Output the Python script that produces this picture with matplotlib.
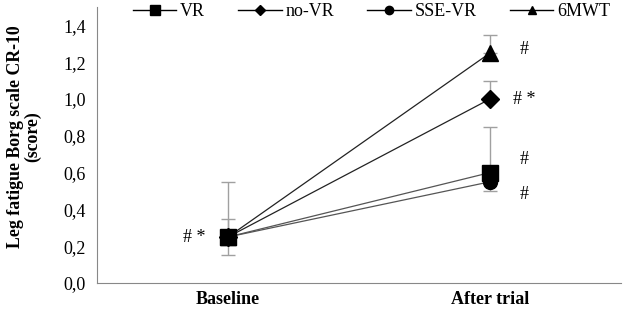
import matplotlib
matplotlib.use("Agg")
import matplotlib.pyplot as plt

plt.rcParams['font.family'] = ['Liberation Serif', 'DejaVu Serif']

categories = ["Baseline", "After trial"]
series = ["VR", "no-VR", "SSE-VR", "6MWT"]
values = {
    "VR": [0.25, 0.60],
    "no-VR": [0.25, 1.00],
    "SSE-VR": [0.25, 0.55],
    "6MWT": [0.25, 1.25],
}
err_lo = {
    "VR": [0.0, 0.0],
    "no-VR": [0.10, 0.0],
    "SSE-VR": [0.0, 0.05],
    "6MWT": [0.0, 0.0],
}
err_hi = {
    "VR": [0.30, 0.25],
    "no-VR": [0.10, 0.10],
    "SSE-VR": [0.0, 0.0],
    "6MWT": [0.0, 0.10],
}
markers = {"VR": "s", "no-VR": "D", "SSE-VR": "o", "6MWT": "^"}
msizes = {"VR": 12, "no-VR": 9, "SSE-VR": 10, "6MWT": 11}
leg_msizes = {"VR": 6.5, "no-VR": 5, "SSE-VR": 6, "6MWT": 6}
lcolors = {"VR": "#555555", "no-VR": "#222222", "SSE-VR": "#555555", "6MWT": "#222222"}
annotations_after = {"VR": "#", "no-VR": "# *", "SSE-VR": "#", "6MWT": "#"}
annotation_offsets = {"VR": 0.07, "no-VR": 0.0, "SSE-VR": -0.07, "6MWT": 0.02}
yticks = [0.0, 0.2, 0.4, 0.6, 0.8, 1.0, 1.2, 1.4]

fig = plt.figure(figsize=(6.24, 3.12), dpi=100)
ax = fig.add_axes([97/624, 1-283/312, (621-97)/624, 276/312])

x = list(range(len(categories)))
order = ["6MWT", "no-VR", "SSE-VR", "VR"]
for s in order:
    ax.errorbar(x, values[s], yerr=[err_lo[s], err_hi[s]], fmt='none',
                ecolor='#a0a0a0', elinewidth=1, capsize=5, capthick=1, zorder=2)
for s in order:
    ax.plot(x, values[s], color=lcolors[s], lw=0.9, zorder=3)
for s in order:
    ax.plot(x, values[s], linestyle='none', marker=markers[s], ms=msizes[s],
            color='black', zorder=4)
# legend handles
handles = []
for s in series:
    h, = ax.plot([], [], color='black', lw=1, marker=markers[s], ms=leg_msizes[s])
    handles.append(h)
leg = ax.legend(handles, series, loc='center left', bbox_to_anchor=(0.055, 0.982),
                ncol=4, frameon=False, fontsize=13, handlelength=2.4,
                columnspacing=1.85, handletextpad=0.2, borderaxespad=0)

ax.text(-0.13, 0.25, "# *", ha='center', va='center', fontsize=13)
for s in series:
    ax.text(1.13, values[s][1] + annotation_offsets[s], annotations_after[s],
            ha='center', va='center', fontsize=13)

ax.set_xlim(-0.5, 1.5)
ax.set_ylim(0, 1.5)
ax.set_yticks(yticks)
ax.set_yticklabels([f"{v:.1f}".replace('.', ',') for v in yticks], fontsize=13)
ax.set_xticks(x)
ax.set_xticklabels(categories, fontsize=13, fontweight='bold')
ax.tick_params(axis='y', length=0, pad=8)
ax.tick_params(axis='x', length=0, pad=6)
for sp in ['top', 'right']:
    ax.spines[sp].set_visible(False)
for sp in ['left', 'bottom']:
    ax.spines[sp].set_color('#888888')
ax.set_ylabel("Leg fatigue Borg scale CR-10\n(score)", fontsize=12.8, fontweight='bold',
              linespacing=1.0)
ax.yaxis.set_label_coords(-0.107, 0.53)

fig.savefig("out.png", dpi=100)
